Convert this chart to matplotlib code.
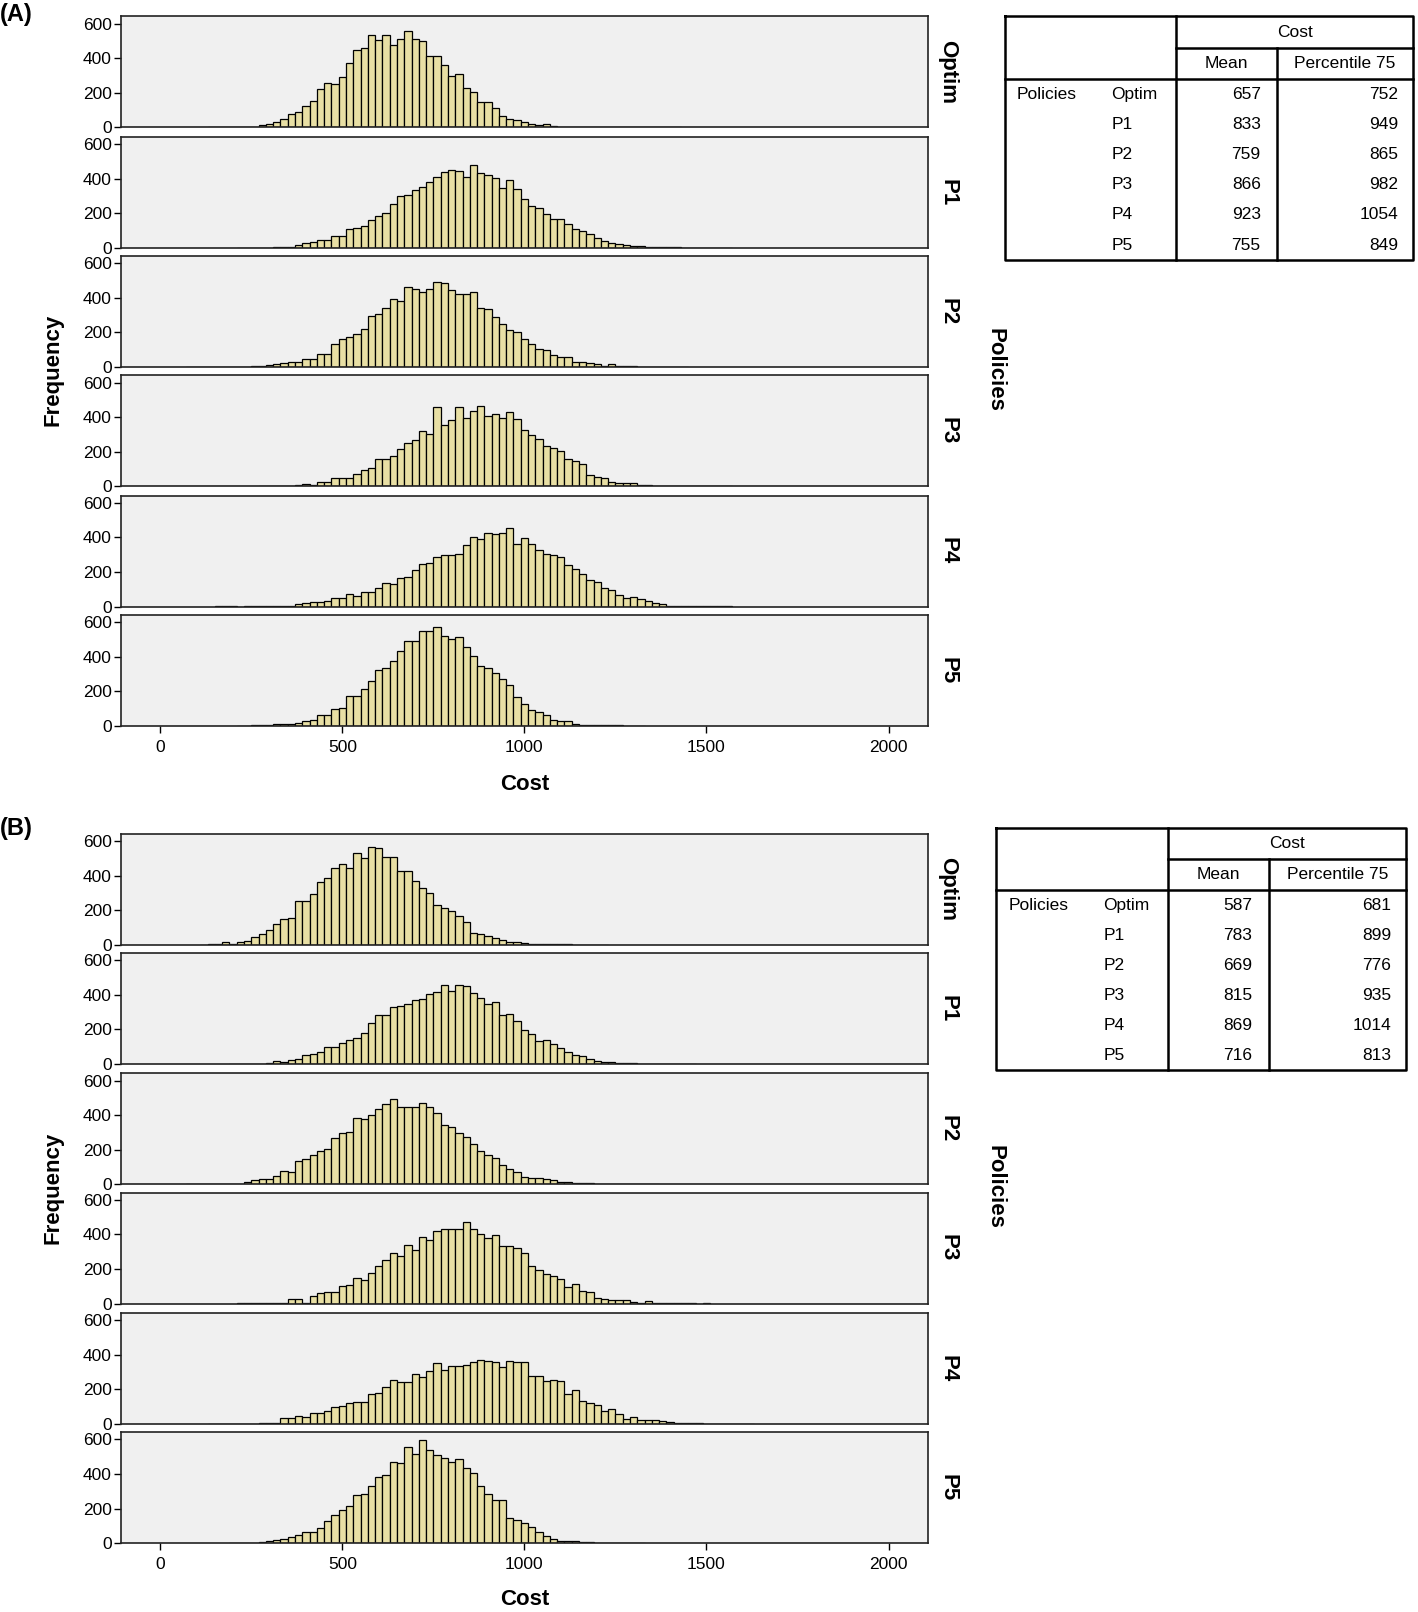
import numpy as np
import matplotlib
matplotlib.use('Agg')
import matplotlib.pyplot as plt

plt.rcParams['font.family'] = ['Liberation Sans', 'DejaVu Sans']

policies = ['Optim', 'P1', 'P2', 'P3', 'P4', 'P5']
bin_width = 20

# (A) left edge of the first bin, then frequencies per bin of width 20
a_first_edge = [130, 210, 70, 270, 150, 210]
a_optim = [1, 0, 2, 2, 3, 4, 5, 12, 18, 30, 50, 80, 88, 122, 152, 225, 258, 250, 290, 373, 450, 460, 532, 507,
           532, 478, 514, 557, 514, 499, 412, 412, 360, 300, 310, 226, 205, 150, 147, 112, 64, 50, 43, 31, 21,
           15, 19, 8, 5, 4, 3, 3, 2, 2, 1, 1, 0, 0, 0, 0, 0, 0, 0, 0, 1]
a_p1 = [1, 0, 0, 1, 1, 2, 2, 3, 15, 25, 31, 45, 45, 68, 70, 106, 116, 126, 159, 186, 203, 253, 300, 306, 335,
        354, 383, 412, 437, 451, 445, 412, 476, 431, 422, 402, 348, 393, 338, 280, 242, 228, 195, 166, 166, 139,
        108, 97, 79, 58, 39, 29, 21, 15, 10, 8, 6, 4, 3, 2, 2, 1, 0, 1, 1, 0, 0, 1]
a_p2 = [2, 0, 0, 0, 0, 0, 1, 1, 2, 3, 5, 10, 15, 21, 31, 31, 48, 48, 77, 77, 131, 160, 174, 190, 218, 294, 306,
        340, 393, 383, 464, 454, 435, 454, 493, 483, 445, 425, 425, 435, 344, 338, 290, 248, 213, 203, 160, 135,
        102, 97, 68, 58, 58, 29, 29, 23, 15, 8, 15, 6, 4, 3, 2, 2, 1, 1, 1, 1, 1]
a_p3 = [1, 2, 1, 2, 3, 10, 15, 6, 25, 25, 45, 48, 48, 73, 93, 108, 155, 160, 174, 213, 248, 267, 319, 300, 456,
        354, 383, 460, 393, 437, 466, 406, 418, 393, 431, 387, 325, 296, 271, 232, 222, 203, 160, 147, 131, 64,
        54, 45, 25, 21, 21, 21, 10, 6, 4, 3, 3, 2, 2, 1, 1, 1, 2, 1, 1]
a_p4 = [1, 1, 1, 0, 1, 2, 2, 3, 3, 4, 5, 15, 19, 25, 25, 35, 48, 48, 70, 62, 87, 87, 106, 139, 128, 164, 170,
        213, 244, 251, 286, 296, 296, 306, 358, 402, 389, 427, 418, 425, 456, 364, 397, 360, 325, 306, 300, 286,
        238, 218, 190, 155, 141, 106, 97, 64, 48, 54, 45, 35, 23, 12, 6, 5, 4, 3, 3, 2, 2, 1, 1]
a_p5 = [1, 1, 2, 3, 4, 10, 10, 10, 19, 29, 35, 64, 64, 99, 102, 174, 174, 213, 257, 325, 335, 377, 431, 493,
        493, 551, 551, 574, 518, 504, 514, 456, 406, 344, 335, 306, 271, 238, 166, 128, 93, 77, 64, 31, 25, 25,
        10, 6, 4, 3, 3, 2, 2, 1, 1, 1]

# (B)
b_first_edge = [110, 190, 70, 210, 130, 190]
b_optim = [1, 2, 3, 15, 6, 19, 23, 44, 61, 86, 120, 147, 156, 253, 253, 295, 362, 387, 442, 467, 442, 533, 501,
           568, 558, 509, 509, 429, 429, 368, 328, 299, 229, 210, 194, 166, 130, 70, 61, 48, 38, 25, 19, 15, 10,
           6, 6, 4, 3, 2, 2, 1, 1, 1, 0, 1]
b_p1 = [1, 1, 2, 2, 3, 4, 15, 10, 25, 32, 51, 57, 70, 99, 99, 124, 139, 152, 181, 238, 282, 282, 330, 337, 349,
        368, 375, 406, 419, 457, 425, 457, 453, 410, 382, 347, 358, 286, 290, 248, 196, 171, 133, 139, 114, 95,
        67, 51, 48, 29, 19, 13, 10, 6, 5, 4, 3, 3, 2, 2, 1, 1, 1, 1]
b_p2 = [1, 0, 0, 1, 1, 1, 2, 3, 13, 25, 32, 29, 48, 76, 72, 133, 147, 168, 190, 204, 267, 295, 305, 385, 377,
        400, 438, 463, 495, 450, 450, 450, 471, 450, 410, 343, 333, 299, 276, 232, 194, 171, 152, 114, 91, 72,
        44, 38, 38, 32, 23, 15, 13, 10, 10, 5, 4, 3, 3, 2, 2, 1, 1, 1, 1]
b_p3 = [1, 1, 2, 2, 3, 4, 5, 25, 25, 6, 44, 63, 67, 67, 101, 110, 149, 139, 177, 215, 253, 295, 278, 339, 310,
        387, 368, 421, 429, 430, 430, 472, 430, 400, 377, 396, 333, 333, 324, 291, 219, 196, 171, 162, 143, 95,
        114, 70, 67, 32, 25, 23, 19, 19, 10, 4, 13, 3, 2, 2, 1, 1, 1, 0, 2]
b_p4 = [1, 1, 0, 1, 2, 2, 2, 3, 3, 4, 32, 32, 48, 42, 61, 61, 76, 95, 105, 118, 124, 128, 171, 177, 215, 253,
        244, 240, 291, 272, 305, 352, 310, 333, 333, 343, 358, 371, 362, 358, 330, 366, 358, 356, 276, 276, 248,
        253, 248, 171, 194, 130, 120, 109, 72, 86, 57, 29, 42, 23, 23, 23, 15, 10, 6, 4, 3, 3, 2, 2, 1, 1, 1,
        1, 1]
b_p5 = [1, 1, 2, 3, 4, 15, 19, 25, 34, 48, 67, 67, 90, 130, 162, 194, 215, 280, 286, 330, 383, 392, 467, 461,
        556, 518, 594, 539, 509, 491, 470, 488, 432, 406, 333, 286, 248, 248, 147, 133, 114, 91, 63, 44, 25, 15,
        13, 10, 6, 4, 3, 3, 2, 2, 1, 1, 1]

a_counts = [a_optim, a_p1, a_p2, a_p3, a_p4, a_p5]
b_counts = [b_optim, b_p1, b_p2, b_p3, b_p4, b_p5]

# summary tables
a_mean = [657, 833, 759, 866, 923, 755]
a_p75 = [752, 949, 865, 982, 1054, 849]
b_mean = [587, 783, 669, 815, 869, 716]
b_p75 = [681, 899, 776, 935, 1014, 813]

# layout measured in a 1379 x 1568 grid
W, H = 1379.0, 1568.0
bar_color = '#e8dfa4'
bg = '#f0f0f0'

fig = plt.figure(figsize=(14.18, 16.12), dpi=100)
ov = fig.add_axes([0, 0, 1, 1])
ov.set_xlim(0, W)
ov.set_ylim(H, 0)
ov.axis('off')
ov.set_zorder(5)


def hist_panel(tops, counts, first_edge, mid_y, xlab_y, tag, tag_y):
    for i, (top, c, e0) in enumerate(zip(tops, counts, first_edge)):
        ax = fig.add_axes([118 / W, 1 - (top + 108) / H, 784 / W, 108 / H])
        ax.set_facecolor(bg)
        edges = e0 + bin_width * np.arange(len(c))
        ax.bar(edges, c, width=bin_width, align='edge', color=bar_color,
               edgecolor='black', linewidth=0.9)
        ax.set_xlim(-107, 2107)
        ax.set_ylim(0, 642)
        ax.set_yticks([0, 200, 400, 600])
        ax.tick_params(axis='y', labelsize=12.5, length=5, width=1, direction='out', pad=2)
        for s in ax.spines.values():
            s.set_color('#222222')
            s.set_linewidth(1.2)
        if i == len(tops) - 1:
            ax.set_xticks([0, 500, 1000, 1500, 2000])
            ax.tick_params(axis='x', labelsize=12.5, length=5, width=1, direction='out', pad=5)
        else:
            ax.set_xticks([])
        ov.text(922, top + 54, policies[i], rotation=-90, ha='center', va='center',
                fontsize=16, fontweight='bold')
    ov.text(52, mid_y, 'Frequency', rotation=90, ha='center', va='center',
            fontsize=16, fontweight='bold')
    ov.text(968, mid_y, 'Policies', rotation=-90, ha='center', va='center',
            fontsize=16, fontweight='bold')
    ov.text(510, xlab_y, 'Cost', ha='center', va='center', fontsize=16, fontweight='bold')
    ov.text(0, tag_y, tag, ha='left', va='center', fontsize=17, fontweight='bold')


def summary_table(x0, x1, y0, y1, c1, c2, h1, h2, means, p75s):
    lw = 1.8
    ov.plot([x0, x1, x1, x0, x0], [y0, y0, y1, y1, y0], color='black', lw=lw)
    ov.plot([c1, c1], [y0, y1], color='black', lw=lw)
    ov.plot([c2, c2], [h1, y1], color='black', lw=lw)
    ov.plot([c1, x1], [h1, h1], color='black', lw=lw)
    ov.plot([x0, x1], [h2, h2], color='black', lw=lw)
    fs = 12.5
    ov.text((c1 + x1) / 2, (y0 + h1) / 2, 'Cost', ha='center', va='center', fontsize=fs)
    ov.text((c1 + c2) / 2, (h1 + h2) / 2, 'Mean', ha='center', va='center', fontsize=fs)
    ov.text((c2 + x1) / 2, (h1 + h2) / 2, 'Percentile 75', ha='center', va='center', fontsize=fs)
    row_h = (y1 - h2) / len(policies)
    for i, p in enumerate(policies):
        yy = h2 + row_h * (i + 0.5)
        if i == 0:
            ov.text(x0 + 12, yy, 'Policies', ha='left', va='center', fontsize=fs)
        ov.text(c1 - 63, yy, p, ha='left', va='center', fontsize=fs)
        ov.text(c2 - 16, yy, str(means[i]), ha='right', va='center', fontsize=fs)
        ov.text(x1 - 14, yy, str(p75s[i]), ha='right', va='center', fontsize=fs)


hist_panel([16, 133, 249, 365, 482, 598], a_counts, a_first_edge, 360, 763, '(A)', 14)
hist_panel([811, 927, 1044, 1160, 1277, 1393], b_counts, b_first_edge, 1155, 1556, '(B)', 806)

summary_table(977, 1374, 16, 253, 1144, 1242, 47, 77, a_mean, a_p75)
summary_table(969, 1367, 805, 1041, 1136, 1234, 836, 866, b_mean, b_p75)

fig.savefig('out.png', dpi=100)
